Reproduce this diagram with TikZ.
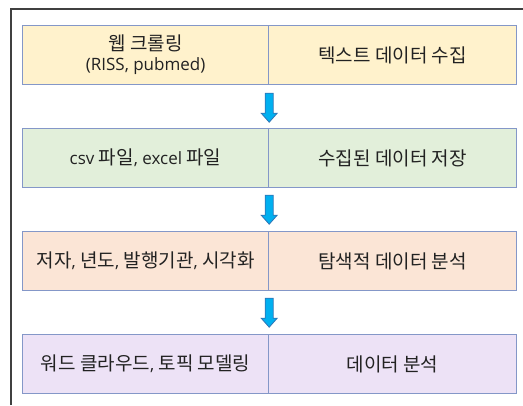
\documentclass[tikz,border=0pt]{standalone}
\usepackage{fontspec}
\setmainfont{Noto Sans CJK KR}
\newfontfamily\latfont{Open Sans}
\newcommand{\lat}[1]{{\latfont\fontsize{17}{20}\selectfont #1}}
\definecolor{frameline}{HTML}{404040}
\definecolor{boxline}{HTML}{8497C8}
\definecolor{fyellow}{HTML}{FFF2CC}
\definecolor{fgreen}{HTML}{E2EFDA}
\definecolor{forange}{HTML}{FBE5D6}
\definecolor{fpurple}{HTML}{EDE2F6}
\definecolor{arrowfill}{HTML}{00B0F0}
\definecolor{arrowline}{HTML}{2E75B6}
\definecolor{txt}{HTML}{222222}
\tikzset{
  cell/.style={draw=boxline, line width=1.2pt, minimum height=59pt, inner sep=0pt,
    anchor=north west, align=center, font=\fontsize{19}{20}\selectfont, text=txt},
  lcell/.style={cell, minimum width=246pt},
  rcell/.style={cell, minimum width=248pt},
  barrow/.pic={
    \draw[draw=arrowline, fill=arrowfill, line width=0.8pt, line join=miter]
      (-4,0) -- (4,0) -- (4,20) -- (8,20) -- (0,29) -- (-8,20) -- (-4,20) -- cycle;
  }
}
\begin{document}
\begin{tikzpicture}[x=1pt,y=-1pt]
\useasboundingbox (0,0) rectangle (523,405);
\draw[frameline, line width=1.2pt] (11,405) -- (11,9) -- (523,9);
% row 1
\node[lcell, fill=fyellow] (a1) at (22,25) {웹 크롤링\\\lat{(RISS, pubmed)}};
\node[rcell, fill=fyellow] (a2) at (268,25) {텍스트 데이터 수집};
% row 2
\node[lcell, fill=fgreen] (b1) at (22,128) {\lat{csv }파일\lat{, excel }파일};
\node[rcell, fill=fgreen] (b2) at (268,128) {수집된 데이터 저장};
% row 3
\node[lcell, fill=forange] (c1) at (22,231) {저자\lat{, }년도\lat{, }발행기관\lat{, }시각화};
\node[rcell, fill=forange] (c2) at (268,231) {탐색적 데이터 분석};
% row 4
\node[lcell, fill=fpurple] (d1) at (22,334) {워드 클라우드\lat{, }토픽 모델링};
\node[rcell, fill=fpurple] (d2) at (268,334) {데이터 분석};
% arrows
\pic at ([yshift=-8pt]a1.south east) {barrow};
\pic at ([yshift=-7pt]b1.south east) {barrow};
\pic at ([yshift=-7pt]c1.south east) {barrow};
\end{tikzpicture}
\end{document}
